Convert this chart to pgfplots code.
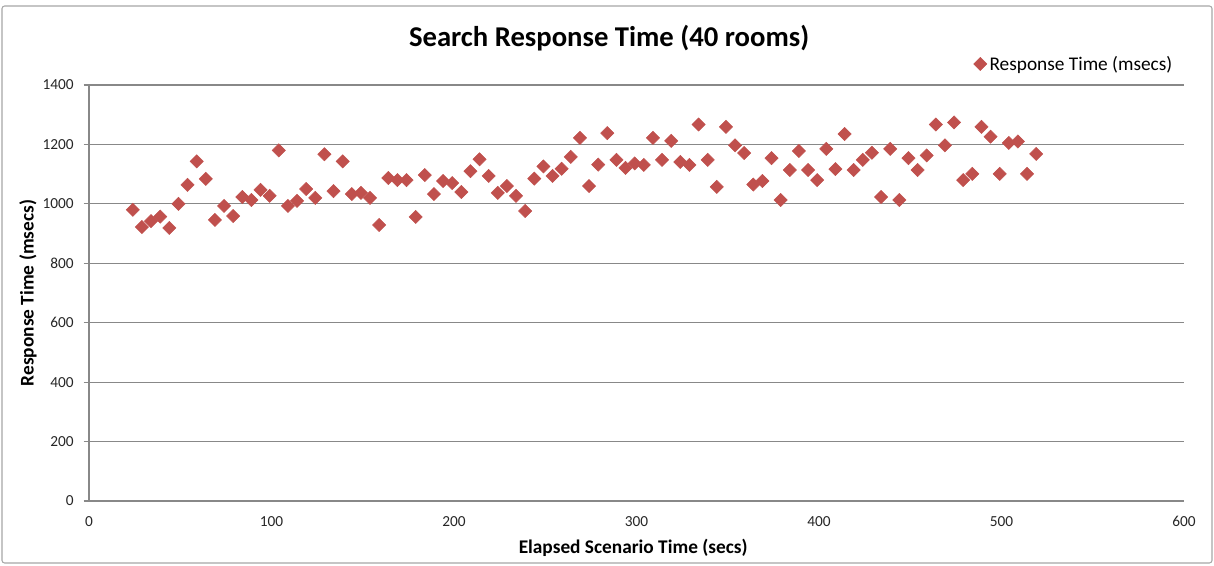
\documentclass[border=0pt]{standalone}
\usepackage{pgfplots}
\pgfplotsset{compat=1.18}
\usepackage{pgfplotstable}
\usepackage{fontspec}
\setmainfont{Carlito}
\definecolor{markred}{HTML}{C0504D}
\definecolor{gridgray}{HTML}{888888}
\definecolor{framegray}{HTML}{A6A6A6}
\pgfplotstableread{
x y
24 980
29 922
34 942
39 957
44 919
49 1000
54 1064
59 1143
64 1084
69 946
74 993
79 959
84 1023
89 1013
94 1047
99 1027
104 1180
109 993
114 1010
119 1050
124 1020
129 1167
134 1043
139 1143
144 1033
149 1037
154 1020
159 929
164 1087
169 1080
174 1080
179 956
184 1097
189 1033
194 1077
199 1070
204 1040
209 1110
214 1150
219 1094
224 1037
229 1060
234 1027
239 976
244 1085
249 1126
254 1094
259 1118
264 1158
269 1222
274 1060
279 1132
284 1238
289 1148
294 1121
299 1136
304 1131
309 1222
314 1148
319 1212
324 1141
329 1131
334 1267
339 1148
344 1057
349 1259
354 1197
359 1171
364 1065
369 1077
374 1154
379 1013
384 1114
389 1178
394 1114
399 1080
404 1185
409 1117
414 1235
419 1114
424 1148
429 1172
434 1023
439 1185
444 1013
449 1154
454 1114
459 1163
464 1267
469 1197
474 1274
479 1080
484 1101
489 1259
494 1226
499 1101
504 1205
509 1210
514 1101
519 1168
}\datatable
\begin{document}
\begin{tikzpicture}
\path[use as bounding box] (-66.75pt,-48pt) rectangle (843.75pt,375.75pt);
\draw[framegray, line width=0.8pt, rounded corners=2pt] (-65.25pt,-46.5pt) rectangle (842.25pt,371.25pt);
\begin{axis}[
  at={(0,0)}, anchor=origin,
  scale only axis,
  width=821.25pt, height=312pt,
  xmin=0, xmax=600, ymin=0, ymax=1400,
  xtick={0,100,...,600},
  ytick={0,200,...,1400},
  axis x line*=bottom, axis y line*=left,
  axis line style={gridgray, line width=0.8pt, -},
  ymajorgrids,
  grid style={gridgray, line width=0.8pt},
  tick align=outside,
  major tick length=4pt,
  xtick style={draw=none},
  ytick style={gridgray, line width=0.8pt},
  tick label style={font=\fontsize{11.5}{13}\selectfont, text=black!85},
  /pgf/number format/assume math mode=true,
  /pgf/number format/set thousands separator={},
  yticklabel style={xshift=-4pt},
  xticklabel style={yshift=-4pt},
  title={Search Response Time (40 rooms)},
  every axis title/.style={at={(rel axis cs:0.475,1.113)}, anchor=center, font=\fontsize{21.5}{25}\selectfont\bfseries},
  xlabel={Elapsed Scenario Time (secs)},
  ylabel={Response Time (msecs)},
  every axis x label/.style={at={(axis description cs:0.497,0)}, anchor=center, yshift=-35pt, font=\fontsize{14.5}{17}\selectfont\bfseries},
  every axis y label/.style={at={(axis description cs:0,0.5)}, anchor=center, rotate=90, yshift=45.75pt, font=\fontsize{14.5}{17}\selectfont\bfseries},
  legend style={at={(rel axis cs:0.992,1.0505)}, anchor=east, draw=none, fill=none, font=\fontsize{14.5}{17}\selectfont, inner sep=0pt},
  legend cell align=left,
  clip=false,
]
\addplot[only marks, mark=square*, mark size=3.5pt, mark options={rotate=45, fill=markred, draw=markred}] table[x=x, y=y] {\datatable};
\addlegendentry{Response Time (msecs)}
\end{axis}
\end{tikzpicture}
\end{document}
